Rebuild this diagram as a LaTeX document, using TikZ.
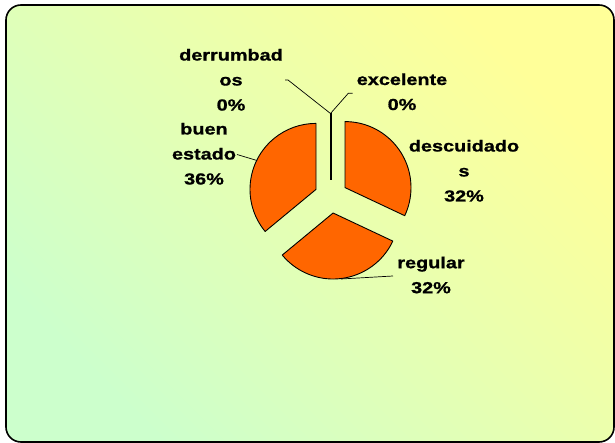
\documentclass[tikz,border=0pt]{standalone}
\usepackage{fontspec}
\newfontfamily\lblfont[FakeStretch=1.24, FakeBold=1]{Liberation Sans}
\definecolor{bgyellow}{HTML}{FFFF99}
\definecolor{bggreen}{HTML}{CCFFCC}
\definecolor{pieorange}{HTML}{FF6600}
\tikzset{
  slice/.style={draw=black, line width=0.9pt, fill=pieorange, line join=round},
  leader/.style={draw=black, line width=0.7pt},
  lbl/.style={align=center, inner sep=0pt, anchor=center,
    font=\lblfont\bfseries\fontsize{16}{25}\selectfont},
}
\begin{document}
\begin{tikzpicture}[x=1pt,y=1pt]
\useasboundingbox (0,0) rectangle (615,443);
% background panel
\shade[top color=bgyellow, bottom color=bggreen, shading angle=-45]
  [rounded corners=15pt] (6,1) rectangle (614,438);
\draw[line width=1.6pt, rounded corners=15pt] (6,1) rectangle (614,438);
% slice centres
\coordinate (cdes) at (345,255.4);
\coordinate (creg) at (333.1,230.0);
\coordinate (cbue) at (316.0,253.6);
\coordinate (ztip) at (330.5,329.5);
% slices
\draw[slice] (cdes) -- ++(90:66) arc[start angle=90, end angle=-25.2, radius=66] -- cycle;
\draw[slice] (creg) -- ++(-25.2:66) arc[start angle=-25.2, end angle=-140.4, radius=66] -- cycle;
\draw[slice] (cbue) -- ++(-140.4:66) arc[start angle=-140.4, end angle=-270, radius=66] -- cycle;
% the two 0% slices, exploded upwards: a thin dark bar
\fill[black] (329.5,263.1) rectangle (331.5,329.5);
% labels
\node[lbl] (lder) at (231,443-79.8) {derrumbad\\os\\0\%};
\node[lbl] (lexc) at (402,443-91.8) {excelente\\0\%};
\node[lbl] (lbue) at (204,443-153.8) {buen\\estado\\36\%};
\node[lbl] (ldes) at (464,443-170.8) {descuidado\\s\\32\%};
\node[lbl] (lreg) at (431,443-275) {regular\\32\%};
% leader lines
\coordinate (dera) at (285,443-80);
\coordinate (derb) at (288,443-80);
\coordinate (exca) at (352.7,443-93.3);
\coordinate (excb) at (348.3,443-93.3);
\coordinate (buea) at (237,443-154.5);
\coordinate (bueb) at (257,443-160.5);
\coordinate (rega) at (393,443-276);
\coordinate (regb) at (341,443-279);
\draw[leader] (dera) -- (derb) -- (ztip);
\draw[leader] (exca) -- (excb) -- (ztip);
\draw[leader] (buea) -- (bueb);
\draw[leader] (rega) -- (regb);
\end{tikzpicture}
\end{document}
